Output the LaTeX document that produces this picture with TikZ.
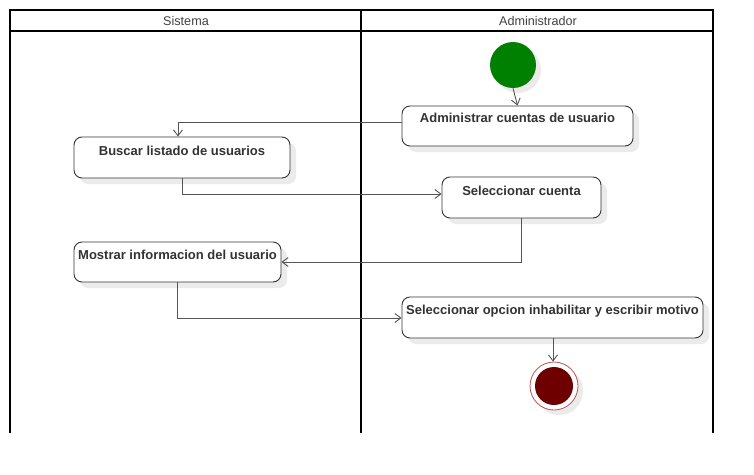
\documentclass[tikz,border=0pt]{standalone}
\usepackage{fontspec}
\setmainfont{Liberation Sans}
\usetikzlibrary{arrows.meta}
\definecolor{edgegray}{HTML}{555555}
\definecolor{boxgray}{HTML}{333333}
\definecolor{shadowgray}{HTML}{EBEBEB}
\definecolor{startgreen}{HTML}{008000}
\definecolor{endred}{HTML}{6F0000}
\definecolor{endring}{HTML}{B85450}
\tikzset{
  actbox/.style={draw=boxgray, line width=0.9pt, fill=white, rounded corners=8pt},
  shadowbox/.style={fill=shadowgray, rounded corners=8pt},
  acttext/.style={font=\bfseries\fontsize{13}{15}\selectfont, text=boxgray, anchor=center, inner sep=0pt},
  flow/.style={draw=edgegray, line width=0.9pt, -{Straight Barb[length=6pt,width=9pt]}},
  lane/.style={draw=black, line width=2pt},
  lanetext/.style={font=\fontsize{12.6}{14}\selectfont, text=black!75, inner sep=0pt}
}
\begin{document}
\begin{tikzpicture}[x=1pt,y=-1pt]
\useasboundingbox (0,0) rectangle (754,474);
\fill[white] (0,0) rectangle (754,474);
% swimlanes
\draw[lane] (10,433) -- (10,10) -- (713,10) -- (713,433);
\draw[lane] (10,31) -- (713,31);
\draw[lane] (361,10) -- (361,433);
\node[lanetext] (lsis) at (186,21) {Sistema};
\node[lanetext] (ladm) at (538,21) {Administrador};
% shadows
\fill[shadowgray] (518,70) circle (23);
\fill[shadowgray] (559,391) circle (24);
\fill[shadowbox] (408,112) rectangle (639,152);
\fill[shadowbox] (80,143) rectangle (296,184);
\fill[shadowbox] (448,183) rectangle (607,224);
\fill[shadowbox] (80,248) rectangle (287,288);
\fill[shadowbox] (408,303) rectangle (709,344);
% start
\node[circle, fill=startgreen, minimum size=46pt, inner sep=0pt] (start) at (513,65) {};
% activity boxes
\node[actbox, minimum width=231pt, minimum height=40pt, inner sep=0pt] (adm) at (517.5,126) {};
\node[acttext] (admt) at (517.5,118) {Administrar cuentas de usuario};
\node[actbox, minimum width=216pt, minimum height=41pt, inner sep=0pt] (bus) at (182,157.5) {};
\node[acttext] (bust) at (182,151) {Buscar listado de usuarios};
\node[actbox, minimum width=159pt, minimum height=41pt, inner sep=0pt] (sel) at (521.5,197.5) {};
\node[acttext] (selt) at (521.5,191) {Seleccionar cuenta};
\node[actbox, minimum width=207pt, minimum height=40pt, inner sep=0pt] (mos) at (177.5,262) {};
\node[acttext] (most) at (177.5,255) {Mostrar informacion del usuario};
\node[actbox, minimum width=301pt, minimum height=41pt, inner sep=0pt] (opc) at (552.5,317.5) {};
\node[acttext] (opct) at (552.5,311) {Seleccionar opcion inhabilitar y escribir motivo};
% end
\node[circle, draw=endring, line width=0.8pt, fill=white, minimum size=48pt, inner sep=0pt] (fin) at (554,386) {};
\node[circle, fill=endred, minimum size=38pt, inner sep=0pt] (finin) at (554,386) {};
% flows
\draw[flow] (start.south) -- (adm.north);
\draw[flow] (adm.west |- 0,122) -- (178,122) -- (bus.north -| 178,0);
\draw[flow] (bus.south) -- (182,194) -- (sel.west |- 0,194);
\draw[flow] (sel.south) -- (521.5,262) -- (mos.east);
\draw[flow] (mos.south) -- (177.5,318) -- (opc.west |- 0,318);
\draw[flow] (opc.south -| 553,0) -- (fin.north -| 553,0);
\end{tikzpicture}
\end{document}
